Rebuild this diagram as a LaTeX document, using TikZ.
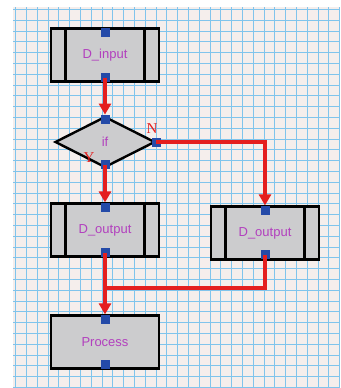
\documentclass[tikz,border=0pt]{standalone}
\usepackage{fontspec}
\setmainfont{Liberation Sans}
\newfontfamily\ynfont{Liberation Serif}
\usetikzlibrary{arrows.meta,positioning,calc,shapes.geometric}
\definecolor{paper}{RGB}{245,238,236}
\definecolor{gridblue}{RGB}{128,196,236}
\definecolor{boxgray}{RGB}{204,204,206}
\definecolor{portblue}{RGB}{36,74,168}
\definecolor{txtmag}{RGB}{178,64,190}
\definecolor{flowred}{RGB}{228,30,30}
\tikzset{
  iobox/.style={draw, line width=2.8pt, fill=boxgray, minimum width=108pt,
                minimum height=53pt, inner sep=0pt, text=txtmag,
                font=\fontsize{13}{15}\selectfont},
  cond/.style={diamond, draw, line width=2.4pt, fill=boxgray, minimum width=100pt,
               minimum height=51pt, inner sep=0pt, text=txtmag,
               font=\fontsize{13}{15}\selectfont},
  port/.style={fill=portblue, minimum size=9pt, inner sep=0pt},
  flow/.style={draw=flowred, line width=3.3pt,
               -{Triangle[length=11pt,width=12pt]}},
  flowln/.style={draw=flowred, line width=3.3pt},
  yn/.style={text=flowred, font=\ynfont\fontsize{15}{17}\selectfont},
}
\begin{document}
\begin{tikzpicture}[x=1pt,y=-1pt]
  \useasboundingbox (0,0) rectangle (340,388);
  % grid paper
  \fill[paper] (13,7) rectangle (340,388);
  \foreach \k in {0,...,30}
    \draw[gridblue, line width=0.8pt] ({15.6+10.8*\k},7) -- ({15.6+10.8*\k},388);
  \foreach \k in {0,...,35}
    \draw[gridblue, line width=0.8pt] (13,{9.3+10.8*\k}) -- (340,{9.3+10.8*\k});

  % blocks
  \node[iobox] (din) at (105,55) {D\_input};
  \node[cond] (if) at (105,142) {if};
  \node[iobox] (doutl) at (105,230) {D\_output};
  \node[iobox] (doutr) at (265,233) {D\_output};
  \node[iobox] (proc) at (105,342) {Process};
  \foreach \b in {din,doutl,doutr}{
    \draw[line width=2.8pt] ([xshift=16pt]\b.north west) -- ([xshift=16pt]\b.south west);
    \draw[line width=2.8pt] ([xshift=-16pt]\b.north east) -- ([xshift=-16pt]\b.south east);
  }

  % ports
  \node[port] (din1) at ([yshift=-5pt]din.north) {};
  \node[port] (din2) at ([yshift=5pt]din.south) {};
  \node[port] (if1) at ([yshift=-4pt]if.north) {};
  \node[port] (if2) at (if.east) {};
  \node[port] (if3) at ([yshift=4pt]if.south) {};
  \node[port] (dl1) at ([yshift=-5pt]doutl.north) {};
  \node[port] (dl2) at ([yshift=5pt]doutl.south) {};
  \node[port] (dr1) at ([yshift=-5pt]doutr.north) {};
  \node[port] (dr2) at ([yshift=6pt]doutr.south) {};
  \node[port] (pr1) at ([yshift=-5pt]proc.north) {};
  \node[port] (pr2) at ([yshift=5pt]proc.south) {};

  % connectors
  \draw[flow] (din2.center) -- (if1.north);
  \draw[flow] (if2.center) -| (dr1.north);
  \draw[flow] (if3.center) -- (dl1.north);
  \draw[flow] (dl2.center) -- (pr1.north);
  \coordinate (mrg) at (105,288);
  \draw[flowln] (dr2.center) |- (mrg);
  \node[yn] (nlbl) at (152,129) {N};
  \node[yn] (ylbl) at (89,158) {Y};
\end{tikzpicture}
\end{document}
